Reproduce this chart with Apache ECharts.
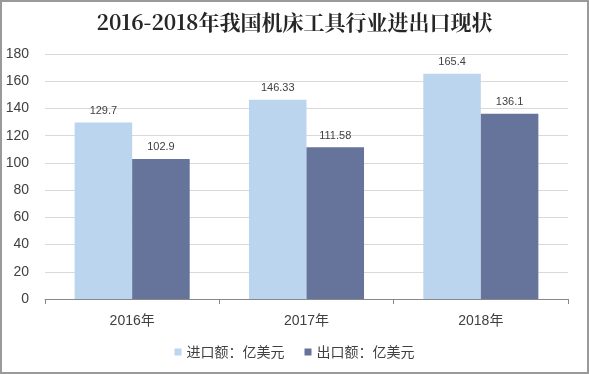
<!DOCTYPE html>
<html><head><meta charset="utf-8">
<script src="https://cdn.jsdelivr.net/npm/echarts@6/dist/echarts.min.js"></script>
<style>html,body{margin:0;padding:0;background:#fff}#c{width:589px;height:374px;box-sizing:border-box;border:2px solid #9a9a9a;}</style>
</head><body><div id="c"></div>
<script>
const categories = ['2016年','2017年','2018年'];
const importVals = [129.7, 146.33, 165.4];
const exportVals = [102.9, 111.58, 136.1];
const seriesNames = ['进口额：亿美元','出口额：亿美元'];
const chart = echarts.init(document.getElementById('c'));
const lbl = {show:true, position:'top', color:'#404040', fontSize:11, fontFamily:'Liberation Sans, Arial', distance:6};
chart.setOption({
  animation:false,
  title:{text:'2016-2018年我国机床工具行业进出口现状', left:'center', top:5,
    textStyle:{fontFamily:'Noto Serif CJK SC, serif', fontWeight:'bold', fontSize:21, color:'#262626'}},
  legend:{bottom:8, left:'center', itemWidth:7, itemHeight:7, itemGap:20, icon:'rect',
    textStyle:{fontSize:14, color:'#404040', fontFamily:'Noto Sans CJK SC'}},
  grid:{left:43, right:19, top:52, bottom:73},
  xAxis:{type:'category', data:categories,
    axisLine:{lineStyle:{color:'#888'}},
    axisTick:{show:true, length:5, lineStyle:{color:'#888'}},
    axisLabel:{color:'#404040', fontSize:14, margin:15, fontFamily:'Liberation Sans, Noto Sans CJK SC'}},
  yAxis:{type:'value', min:0, max:180, interval:20,
    axisLine:{show:false}, axisTick:{show:false},
    splitLine:{lineStyle:{color:'#d9d9d9'}},
    axisLabel:{color:'#404040', fontSize:14, margin:16, fontFamily:'Liberation Sans, Arial'}},
  series:[
    {name:seriesNames[0], type:'bar', data:importVals, barWidth:'33%', barGap:'0%', itemStyle:{color:'#bcd5ee'}, label:lbl},
    {name:seriesNames[1], type:'bar', data:exportVals, barWidth:'33%', barGap:'0%', itemStyle:{color:'#66739a'}, label:lbl}
  ]
});
</script></body></html>
